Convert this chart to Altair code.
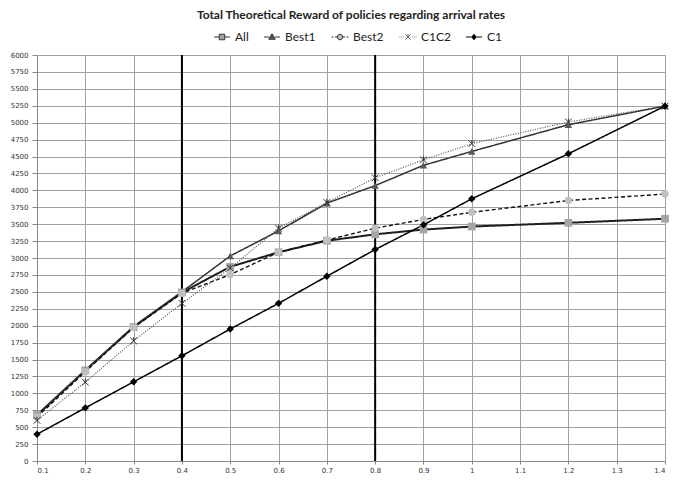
import altair as alt
import pandas as pd

# ---- data ----
x_vals = [0.1, 0.2, 0.3, 0.4, 0.5, 0.6, 0.7, 0.8, 0.9, 1.0, 1.2, 1.4]
series_names = ["All", "Best1", "Best2", "C1C2", "C1"]
all_vals = [680, 1340, 1980, 2490, 2870, 3085, 3255, 3350, 3420, 3465, 3520, 3580]
best1_vals = [670, 1340, 1990, 2500, 3030, 3400, 3810, 4070, 4370, 4575, 4970, 5245]
best2_vals = [650, 1320, 1975, 2480, 2755, 3085, 3265, 3440, 3570, 3675, 3850, 3945]
c1c2_vals = [600, 1165, 1775, 2330, 2850, 3440, 3820, 4185, 4450, 4690, 5010, 5245]
c1_vals = [395, 785, 1170, 1555, 1950, 2330, 2730, 3125, 3490, 3875, 4540, 5245]
vline_rates = [0.4, 0.8]
x_ticks = [0.1, 0.2, 0.3, 0.4, 0.5, 0.6, 0.7, 0.8, 0.9, 1.0, 1.1, 1.2, 1.3, 1.4]
y_ticks = list(range(0, 6001, 250))

rows = []
for name, vals in zip(series_names, [all_vals, best1_vals, best2_vals, c1c2_vals, c1_vals]):
    for xv, v in zip(x_vals, vals):
        rows.append({"rate": xv, "reward": v, "series": name})
df = pd.DataFrame(rows)

# ---- styles ----
ASTER = "M-1,-1L1,1M-1,1L1,-1M0,-1.1V0"
styles = {
    "All":   dict(color="#1e1e1e", width=2.0, dash=[1, 0], shape="square", filled=True, mcolor="#a5a5a5", size=60),
    "Best1": dict(color="#333333", width=1.5, dash=[1, 0], shape="triangle-up", filled=True, mcolor="#595959", size=55),
    "Best2": dict(color="#111111", width=1.4, dash=[4, 2.5], shape="circle", filled=True, mcolor="#c0c0c0", size=55),
    "C1C2":  dict(color="#555555", width=1.2, dash=[1, 1.5], shape=ASTER, filled=False, mcolor="#333333", size=45),
    "C1":    dict(color="#000000", width=1.5, dash=[1, 0], shape="diamond", filled=True, mcolor="#000000", size=55),
}

legend_fills = ["#a5a5a5", "#595959", "#c0c0c0", "#ffffff", "#000000"]
legend_strokes = ["#333333", "#333333", "#333333", "#666666", "#000000"]
legend_paths = [
    "M-1.6,0H-0.55M0.55,0H1.6M-0.55,-0.55H0.55V0.55H-0.55Z",
    "M-1.6,0H-0.6M0.6,0H1.6M0,-0.65L0.65,0.45L-0.65,0.45Z",
    "M-1.7,0H-1.3M-1.0,0H-0.6M0.6,0H1.0M1.3,0H1.7M0.55,0A0.55,0.55,0,1,1,-0.55,0A0.55,0.55,0,1,1,0.55,0Z",
    "M-1.7,0H-1.55M-1.35,0H-1.2M-1.0,0H-0.85M0.85,0H1.0M1.2,0H1.35M1.55,0H1.7M-0.5,-0.5L0.5,0.5M-0.5,0.5L0.5,-0.5M0,-0.6V0",
    "M-1.6,0H-0.5M0.5,0H1.6M0,-0.55L0.45,0L0,0.55L-0.45,0Z",
]

x_enc = alt.X(
    "rate:Q",
    scale=alt.Scale(domain=[0.1, 1.4], nice=False, zero=False),
    axis=alt.Axis(
        values=x_ticks, title=None, grid=True, tickSize=3, labelPadding=2,
        labelExpr="replace(format(datum.value, '.1~f'), '.', ',')",
    ),
)
y_enc = alt.Y(
    "reward:Q",
    scale=alt.Scale(domain=[0, 6000], nice=False, zero=True),
    axis=alt.Axis(values=y_ticks, title=None, grid=True, format="d", tickSize=5, labelPadding=4),
)

base = alt.Chart(df)

layers = []
rules = alt.Chart(pd.DataFrame({"rate": vline_rates})).mark_rule(
    color="#000000", strokeWidth=2
).encode(x=x_enc)
layers.append(rules)

for name in series_names:
    s = styles[name]
    sub = base.transform_filter(alt.datum.series == name)
    layers.append(
        sub.mark_line(color=s["color"], strokeWidth=s["width"], strokeDash=s["dash"]).encode(x=x_enc, y=y_enc)
    )
for name in series_names:
    s = styles[name]
    sub = base.transform_filter(alt.datum.series == name)
    if s["filled"]:
        mk = sub.mark_point(shape=s["shape"], filled=True, fill=s["mcolor"], opacity=1,
                            size=s["size"], strokeWidth=0)
    else:
        mk = sub.mark_point(shape=s["shape"], filled=False, stroke=s["mcolor"], opacity=1,
                            size=s["size"], strokeWidth=1)
    layers.append(mk.encode(x=x_enc, y=y_enc))

legend_layer = base.transform_filter("false").mark_point(
    filled=True, opacity=1, size=100, strokeWidth=1
).encode(
    fill=alt.Fill("series:N", scale=alt.Scale(domain=series_names, range=legend_fills), legend=alt.Legend(title=None)),
    stroke=alt.Stroke("series:N", scale=alt.Scale(domain=series_names, range=legend_strokes), legend=alt.Legend(title=None)),
    shape=alt.Shape("series:N", scale=alt.Scale(domain=series_names, range=legend_paths), legend=alt.Legend(title=None)),
)
layers.append(legend_layer)

chart = alt.layer(*layers).properties(
    width=628,
    height=406,
    padding={"left": 2, "top": 1, "right": 0, "bottom": 0},
    title=alt.TitleParams(
        "Total Theoretical Reward of policies regarding arrival rates",
        font="Lato", fontSize=12, fontWeight="bold", color="#222222", anchor="middle", offset=9,
    ),
).configure_view(
    stroke=None
).configure_axis(
    labelFont="DejaVu Sans", labelFontSize=7, labelColor="#333333",
    gridColor="#a0a0a0", gridWidth=1, domainColor="#888888", tickColor="#888888",
).configure_legend(
    orient="none", legendX=179, legendY=-24, direction="horizontal", symbolSize=100, symbolStrokeWidth=1,
    labelFont="Lato", labelFontSize=12, labelColor="#222222", labelOffset=7,
    columnPadding=13, padding=0,
)

chart.save("out.html", embed_options={"renderer": "svg", "actions": False})
